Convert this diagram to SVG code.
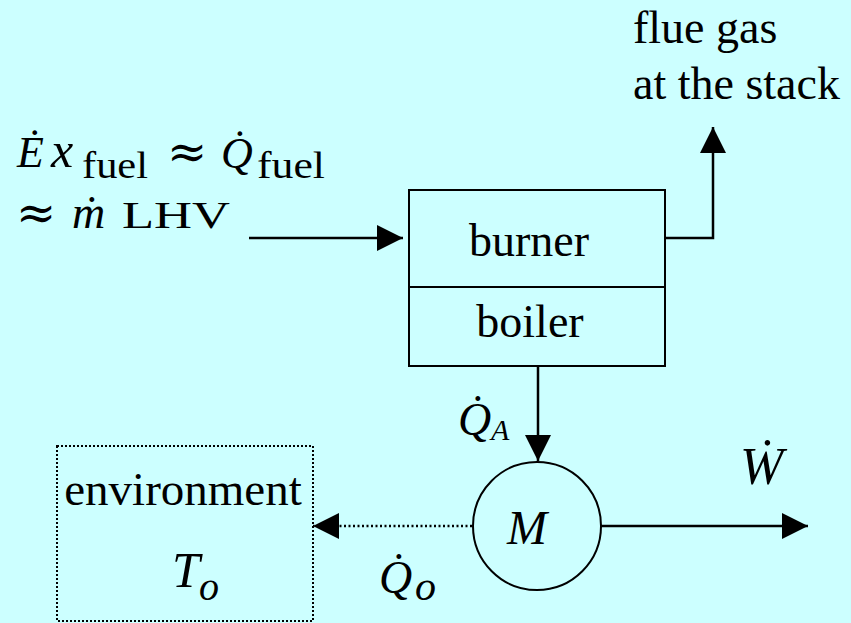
<svg xmlns="http://www.w3.org/2000/svg" width="851" height="623" viewBox="0 0 851 623">
<style>
  .t { font-family: "Liberation Serif", Tinos, "Times New Roman", "DejaVu Serif", serif; fill: #000; }
  .i { font-style: italic; }
  .sym { font-family: "DejaVu Serif", serif; }
  .box { fill: none; stroke: #000; stroke-width: 2; }
  .dot { fill: none; stroke: #000; stroke-width: 2; stroke-dasharray: 2 2; }
  .conn { fill: none; stroke: #000; stroke-width: 2.5; marker-end: url(#ah); }
  .dconn { fill: none; stroke: #000; stroke-width: 2.5; stroke-dasharray: 2 2.5; marker-end: url(#ah); }
</style>
<defs>
  <marker id="ah" markerUnits="userSpaceOnUse" markerWidth="27" markerHeight="27" refX="26" refY="13" orient="auto">
    <path d="M0,0 L26,13 L0,26 z" fill="#000"/>
  </marker>
</defs>
<rect x="0" y="0" width="851" height="623" fill="#CCFFFF"/>

<g id="fuel-label">
  <text class="t i" x="17" y="167" font-size="44">Ė</text>
  <text class="t i" x="51" y="167" font-size="50">x</text>
  <text class="t" x="82" y="178" font-size="37" textLength="66" lengthAdjust="spacingAndGlyphs">fuel</text>
  <text class="t sym" x="167" y="168" font-size="48">≈</text>
  <text class="t i" x="221" y="168" font-size="44">Q̇</text>
  <text class="t" x="257" y="178" font-size="37" textLength="68" lengthAdjust="spacingAndGlyphs">fuel</text>
  <text class="t sym" x="16" y="229" font-size="48">≈</text>
  <text class="t i" x="72" y="228" font-size="46">ṁ</text>
  <text class="t" x="122" y="228" font-size="38" textLength="108" lengthAdjust="spacingAndGlyphs">LHV</text>
</g>

<g id="flue-gas">
  <text class="t" x="633" y="43" font-size="46">flue gas</text>
  <text class="t" x="633" y="99" font-size="46">at the stack</text>
</g>

<g id="burner-boiler">
  <rect class="box" x="409" y="190" width="256" height="176"/>
  <line class="box" x1="409" y1="287" x2="665" y2="287"/>
  <text class="t" x="529" y="256" font-size="46" text-anchor="middle">burner</text>
  <text class="t" x="530" y="337" font-size="46" text-anchor="middle">boiler</text>
</g>

<g id="engine">
  <circle class="box" cx="537" cy="526" r="64"/>
  <text class="t i" x="527" y="544" font-size="48" text-anchor="middle">M</text>
</g>

<g id="environment">
  <rect class="dot" x="57" y="446" width="256" height="175"/>
  <text class="t" x="183" y="505" font-size="47" text-anchor="middle">environment</text>
  <text class="t i" x="172" y="587" font-size="50">T</text>
  <text class="t i" x="199" y="600" font-size="40">o</text>
</g>

<g id="connectors">
  <path class="conn" d="M249,238 H403"/>
  <path class="conn" d="M665,238 H713 V127"/>
  <path class="conn" d="M538,366 V461"/>
  <path class="conn" d="M601,526 H808"/>
  <path class="dconn" d="M472,526 H313"/>
</g>

<g id="labels">
  <text class="t i" x="458" y="435" font-size="46">Q̇</text>
  <text class="t i" x="491" y="440" font-size="30">A</text>
  <text class="t i" x="740" y="484" font-size="52">Ẇ</text>
  <text class="t i" x="379" y="593" font-size="46">Q̇</text>
  <text class="t i" x="415" y="600" font-size="42">o</text>
</g>
</svg>
